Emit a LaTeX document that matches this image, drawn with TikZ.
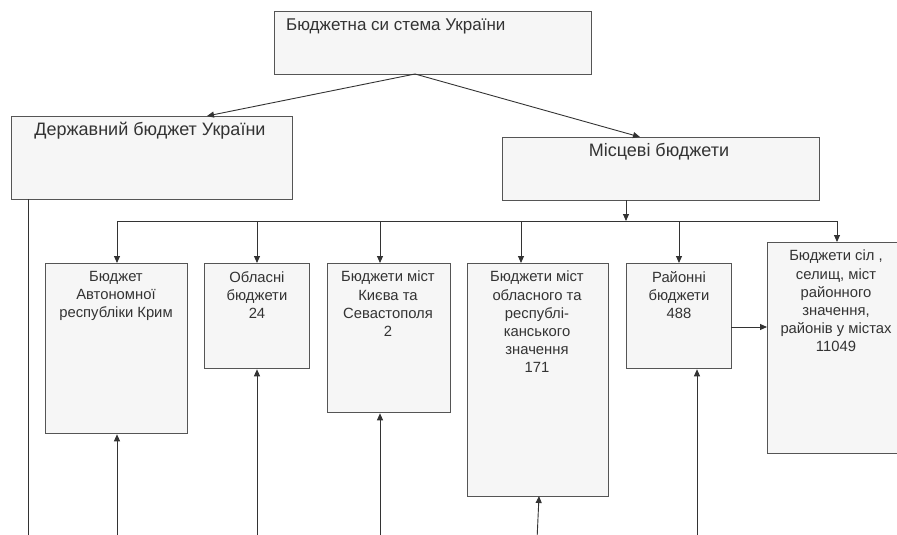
\documentclass[tikz,border=0pt]{standalone}
\usepackage{fontspec}
\setmainfont{Liberation Sans}
\usetikzlibrary{arrows.meta}
\definecolor{boxfill}{HTML}{F6F6F6}
\definecolor{edge}{HTML}{555555}
\definecolor{linec}{HTML}{333333}
\tikzset{
  box/.style={draw=edge, line width=1.3pt, fill=boxfill, inner sep=0pt, anchor=north west},
  conn/.style={draw=linec, line width=0.9pt},
  arr/.style={conn, -{Triangle[length=7pt,width=6pt]}},
  small/.style={font=\fontsize{14.8}{18.2}\selectfont, align=center, anchor=north, inner sep=0pt, text=black!80},
  big/.style={font=\fontsize{18}{21}\selectfont, anchor=north, inner sep=0pt, text=black!80}
}
\newcommand{\bx}[5]{\node[box, minimum width=#4-#2, minimum height=#5-#3] (#1) at (#2,#3) {};}
\begin{document}
\begin{tikzpicture}[x=1pt,y=-1pt]
\useasboundingbox (0,0) rectangle (897,535);
\clip (0,0) rectangle (897,535);
% boxes
\bx{top}{274}{11}{591}{74}
\bx{state}{11}{116}{292}{199}
\bx{local}{502}{137}{819}{200}
\bx{b1}{45}{263}{187}{433}
\bx{b2}{204}{263}{309}{368}
\bx{b3}{327}{263}{450}{412}
\bx{b4}{467}{263}{608}{496}
\bx{b5}{626}{263}{731}{368}
\bx{b6}{767}{242}{910}{453}
% texts
\node[big, font=\fontsize{17}{20}\selectfont, anchor=north west] (ttop) at (286,19) {Бюджетна си стема України};
\node[big] (tstate) at (150,122) {Державний бюджет України};
\node[big] (tlocal) at (659,143) {Місцеві бюджети};
\node[small] (t1) at (116,271) {Бюджет\\Автономної\\республіки Крим};
\node[small] (t2) at (257,271) {Обласні\\бюджети\\24};
\node[small] (t3) at (388,271) {Бюджети міст\\Києва та\\Севастополя\\2};
\node[small] (t4) at (537,271) {Бюджети міст\\обласного та\\республі-\\канського\\значення\\171};
\node[small] (t5) at (679,271) {Районні\\бюджети\\488};
\node[small] (t6) at (836,250) {Бюджети сіл ,\\селищ, міст\\районного\\значення,\\районів у містах\\11049};
% coordinates
\coordinate (ts) at (415,74);
\coordinate (stin) at (207,116);
\coordinate (lcin) at (640,137);
\coordinate (lcout) at (626,200);
\coordinate (busm) at (626,221);
\coordinate (busl) at (117,221);
\coordinate (busr) at (837,221);
\coordinate (d2) at (257,221);
\coordinate (d3) at (380,221);
\coordinate (d4) at (521,221);
\coordinate (d5) at (679,221);
\coordinate (sto) at (28,199);
\coordinate (stend) at (28,540);
\coordinate (u1) at (117,540);
\coordinate (u2) at (257,540);
\coordinate (u3) at (380,540);
\coordinate (u4) at (537,540);
\coordinate (u5) at (697,540);
\coordinate (r5) at (731,327);
\coordinate (l6) at (767,327);
% connectors
\draw[arr] (ts) -- (stin);
\draw[arr] (ts) -- (lcin);
\draw[arr] (lcout) -- (busm);
\draw[conn] (busl) -- (busr);
\draw[arr] (busl) -- (b1.north -| busl);
\draw[arr] (d2) -- (b2.north -| d2);
\draw[arr] (d3) -- (b3.north -| d3);
\draw[arr] (d4) -- (b4.north -| d4);
\draw[arr] (d5) -- (b5.north -| d5);
\draw[arr] (busr) -- (b6.north -| busr);
\draw[conn] (sto) -- (stend);
\draw[arr] (u1) -- (b1.south -| u1);
\draw[arr] (u2) -- (b2.south -| u2);
\draw[arr] (u3) -- (b3.south -| u3);
\draw[arr] (u4) -- (539,496);
\draw[arr] (u5) -- (b5.south -| u5);
\draw[arr] (r5) -- (l6);
\end{tikzpicture}
\end{document}
